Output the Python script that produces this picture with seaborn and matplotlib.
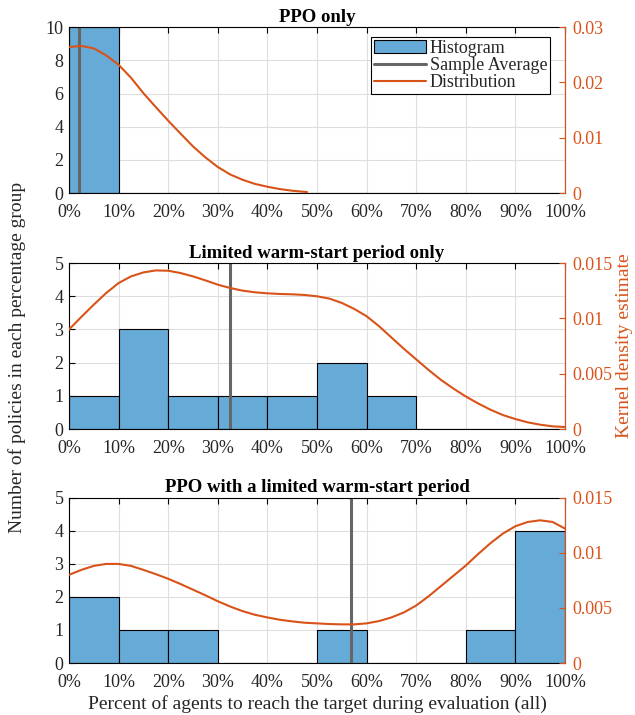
import numpy as np
import pandas as pd
import matplotlib
matplotlib.use("Agg")
import matplotlib.pyplot as plt
import seaborn as sns

# bin edges (percent) shared by the three histograms
bin_edges = [0, 10, 20, 30, 40, 50, 60, 70, 80, 90, 100]
bin_centers = [5, 15, 25, 35, 45, 55, 65, 75, 85, 95]

titles = ["PPO only",
          "Limited warm-start period only",
          "PPO with a limited warm-start period"]

# number of policies in each bin
counts_ppo = [10, 0, 0, 0, 0, 0, 0, 0, 0, 0]
counts_warm = [1, 3, 1, 1, 1, 2, 1, 0, 0, 0]
counts_both = [2, 1, 1, 0, 0, 1, 0, 0, 1, 4]

# sample averages (percent)
mean_ppo = 2.0
mean_warm = 32.5
mean_both = 56.8

# kernel density estimates
kde_x_ppo = [0, 2.5, 5, 7.5, 10, 12.5, 15, 17.5, 20, 22.5, 25, 27.5, 30,
             32.5, 35, 37.5, 40, 42.5, 45, 48]
kde_y_ppo = [0.0264, 0.02661, 0.02616, 0.0249, 0.02319, 0.02085, 0.01806,
             0.01554, 0.01308, 0.01074, 0.00843, 0.00645, 0.00471, 0.00336,
             0.0024, 0.00165, 0.00114, 0.00072, 0.00042, 0.00018]

kde_x = [0, 2.5, 5, 7.5, 10, 12.5, 15, 17.5, 20, 22.5, 25, 27.5, 30,
         32.5, 35, 37.5, 40, 42.5, 45, 47.5, 50, 52.5, 55, 57.5, 60,
         62.5, 65, 67.5, 70, 72.5, 75, 77.5, 80, 82.5, 85, 87.5, 90,
         92.5, 95, 97.5, 100]
kde_y_warm = [0.0090, 0.01014, 0.01125, 0.0123, 0.0132, 0.0138, 0.01416,
              0.01434, 0.01431, 0.0141, 0.0138, 0.01344, 0.01305, 0.01275,
              0.01251, 0.01236, 0.01227, 0.01221, 0.01218, 0.01212, 0.0120,
              0.01179, 0.0114, 0.01086, 0.0102, 0.0093, 0.00828, 0.00726,
              0.0063, 0.00534, 0.00444, 0.00366, 0.00294, 0.00231, 0.00174,
              0.00126, 0.0009, 0.0006, 0.00039, 0.00024, 0.00018]
kde_y_both = [0.00801, 0.00846, 0.00882, 0.009, 0.009, 0.00882, 0.00846,
              0.00807, 0.00765, 0.00717, 0.00666, 0.00615, 0.00561, 0.00513,
              0.00471, 0.00438, 0.00414, 0.00393, 0.00378, 0.00366, 0.0036,
              0.00354, 0.00351, 0.00351, 0.0036, 0.00381, 0.00414, 0.00459,
              0.00522, 0.00606, 0.00699, 0.00792, 0.00885, 0.0099, 0.01089,
              0.01176, 0.01242, 0.01281, 0.01296, 0.01281, 0.01221]

left_ylims = [10, 5, 5]
left_ticks = [[0, 2, 4, 6, 8, 10], [0, 1, 2, 3, 4, 5], [0, 1, 2, 3, 4, 5]]
right_ylims = [0.03, 0.015, 0.015]
right_ticks = [[0, 0.01, 0.02, 0.03], [0, 0.005, 0.01, 0.015], [0, 0.005, 0.01, 0.015]]
right_labels = [["0", "0.01", "0.02", "0.03"], ["0", "0.005", "0.01", "0.015"],
                ["0", "0.005", "0.01", "0.015"]]
x_ticks = [0, 10, 20, 30, 40, 50, 60, 70, 80, 90, 100]
x_labels = ["0%", "10%", "20%", "30%", "40%", "50%", "60%", "70%", "80%", "90%", "100%"]

sns.set_style("white")
plt.rcParams["font.family"] = ["Liberation Serif", "DejaVu Serif"]

bar_color = "#66aad7"
kde_color = "#d95319"
mean_color = "#666666"
text_color = "#262626"
tick_fs = 13

fig = plt.figure(figsize=(6.35, 7.15), dpi=100)
boxes = [[0.1087, 0.730, 0.781, 0.232],
         [0.1087, 0.400, 0.781, 0.232],
         [0.1087, 0.0727, 0.781, 0.231]]

all_counts = [counts_ppo, counts_warm, counts_both]
all_means = [mean_ppo, mean_warm, mean_both]
all_kde = [(kde_x_ppo, kde_y_ppo), (kde_x, kde_y_warm), (kde_x, kde_y_both)]

for i in range(3):
    ax = fig.add_axes(boxes[i])
    hist_df = pd.DataFrame({"x": bin_centers, "w": all_counts[i]})
    sns.histplot(data=hist_df, x="x", weights="w", bins=bin_edges, ax=ax,
                 color=bar_color, alpha=1, edgecolor="black", linewidth=0.8)
    ax.axvline(all_means[i], color=mean_color, lw=2.2)

    ax.set_xlim(0, 100)
    ax.set_ylim(0, left_ylims[i])
    ax.set_xticks(x_ticks)
    ax.set_xticklabels(x_labels)
    ax.set_yticks(left_ticks[i])
    ax.set_xlabel("")
    ax.set_ylabel("")
    ax.set_axisbelow(True)
    ax.grid(True, color="#dedede", lw=0.8)
    ax.tick_params(axis="y", direction="in", length=4, colors="black",
                   labelcolor=text_color, labelsize=tick_fs, pad=4)
    ax.tick_params(axis="x", direction="in", length=4, top=True, colors="black",
                   labelcolor=text_color, labelsize=tick_fs, pad=8)
    for side in ["left", "top", "bottom"]:
        ax.spines[side].set_color("black")
        ax.spines[side].set_linewidth(0.8)
    ax.set_title(titles[i], fontweight="bold", fontsize=13.5, pad=4, color="black")

    ax2 = ax.twinx()
    kde_df = pd.DataFrame({"x": all_kde[i][0], "y": all_kde[i][1]})
    sns.lineplot(data=kde_df, x="x", y="y", ax=ax2, color=kde_color, lw=1.5)
    ax2.set_ylim(0, right_ylims[i])
    ax2.set_yticks(right_ticks[i])
    ax2.set_yticklabels(right_labels[i])
    ax2.set_xlabel("")
    ax2.set_ylabel("")
    ax2.tick_params(axis="y", direction="in", length=4, colors=kde_color,
                    labelsize=tick_fs, pad=5)
    ax2.spines["right"].set_color(kde_color)
    ax2.spines["right"].set_linewidth(0.8)
    for side in ["left", "top", "bottom"]:
        ax2.spines[side].set_visible(False)

    if i == 0:
        handles = [plt.Rectangle((0, 0), 1, 1, facecolor=bar_color, edgecolor="black", lw=0.8),
                   plt.Line2D([], [], color=mean_color, lw=2.2),
                   plt.Line2D([], [], color=kde_color, lw=1.5)]
        leg = ax2.legend(handles, ["Histogram", "Sample Average", "Distribution"],
                         loc="upper right", bbox_to_anchor=(0.97, 0.94),
                         fancybox=False, framealpha=1, edgecolor="black",
                         fontsize=13, handlelength=2.9, handletextpad=0.2,
                         borderpad=0.15, labelspacing=0.0, borderaxespad=0)
        leg.get_frame().set_linewidth(0.8)
    if i == 1:
        ax2.set_ylabel("Kernel density estimate", color=kde_color, fontsize=14, labelpad=3)
    if i == 2:
        ax.set_xlabel("Percent of agents to reach the target during evaluation (all)",
                      fontsize=14, color=text_color, labelpad=3)

fig.text(0.027, 0.5, "Number of policies in each percentage group", rotation=90,
         ha="center", va="center", fontsize=14, color=text_color)

fig.savefig("out.png", dpi=100)
